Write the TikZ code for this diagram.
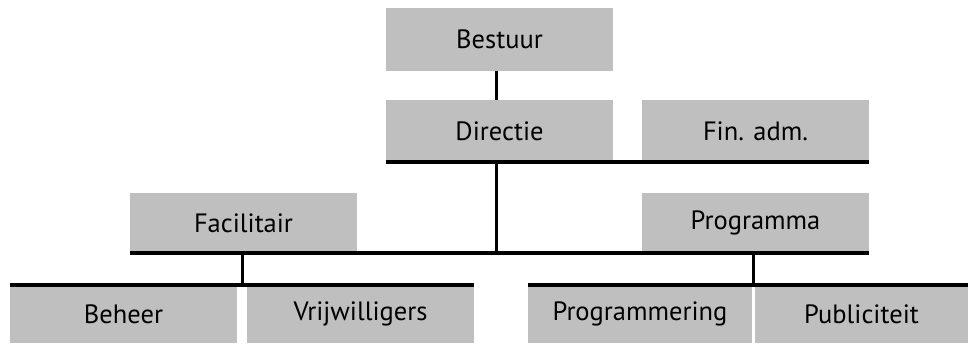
\documentclass[tikz,border=0pt]{standalone}
\usepackage{fontspec}
\setmainfont{PT Sans}
\usetikzlibrary{positioning}

\begin{document}
\begin{tikzpicture}[x=1pt, y=-1pt,
		unit/.style={fill=black!25, inner sep=0pt, minimum width=227pt, minimum height=#1,
			font=\fontsize{26.5}{30}\selectfont},
		unit/.default=60pt,
		bar/.style={line width=4pt},
		link/.style={line width=3pt}]
			\useasboundingbox (0,0) rectangle (968,343);
			\node[unit=63pt] (best) at (499.5,39.5) {Bestuur};
			\node[unit=62pt] (dir) at (499.5,131) {Directie};
			\node[unit=62pt] (fin) at (755.5,131) {Fin. adm.};
			\node[unit] (fac) at (243.5,223) {Facilitair};
			\node[unit] (prog) at (755.5,223) {Programma};
			\node[unit=58pt] (beh) at (123.5,314) {Beheer};
			\node[unit=58pt] (vrij) at (360.5,314) {Vrijwilligers};
			\node[unit=58pt, minimum width=224pt] (pgm) at (640,314) {Programmering};
			\node[unit=58pt, minimum width=213pt] (pub) at (861.5,314) {Publiciteit};
			% lijnen
			\draw[link] ([xshift=-3pt]best.south) -- ([xshift=-3pt]dir.north);
			\draw[bar] (dir.south west) -- (fin.south east);
			\draw[link] ([xshift=-3pt]dir.south) -- ([xshift=-3pt]dir.south |- fac.south);
			\draw[bar] (fac.south west) -- (prog.south east);
			\draw[link] ([xshift=-1.5pt]fac.south) -- ([xshift=-1.5pt]fac.south |- beh.north);
			\draw[bar] (beh.north west) -- (vrij.north east);
			\draw[link] ([xshift=-2.5pt]prog.south) -- ([xshift=-2.5pt]prog.south |- pgm.north);
			\draw[bar] (pgm.north west) -- (pub.north east);
		\end{tikzpicture}
\end{document}
